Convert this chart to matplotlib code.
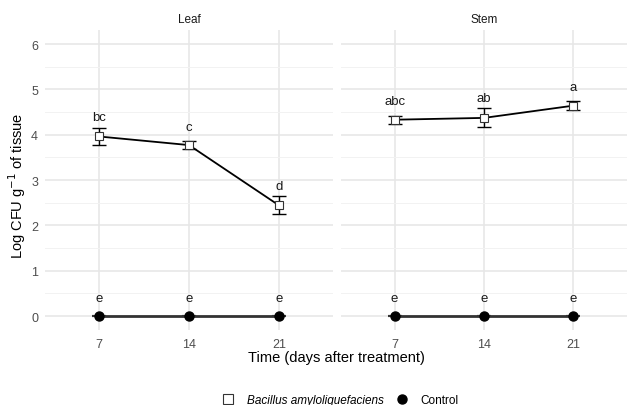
import matplotlib.pyplot as plt
from matplotlib.lines import Line2D
from matplotlib.ticker import MultipleLocator

plt.rcParams['font.family'] = ['Liberation Sans', 'DejaVu Sans']

# Data
days = ['7', '14', '21']
panels = ['Leaf', 'Stem']

leaf_mean = [3.96, 3.77, 2.44]
leaf_sd = [0.18, 0.08, 0.20]
stem_mean = [4.33, 4.37, 4.64]
stem_sd = [0.09, 0.21, 0.10]
control_mean = [0.0, 0.0, 0.0]
control_sd = [0.0, 0.0, 0.0]

leaf_letters = ['bc', 'c', 'd']
stem_letters = ['abc', 'ab', 'a']
control_letters = ['e', 'e', 'e']
leaf_letter_y = [4.39, 4.18, 2.87]
stem_letter_y = [4.75, 4.80, 5.06]
control_letter_y = [0.40, 0.40, 0.40]

W, H = 627, 406
fig = plt.figure(figsize=(W / 100, H / 100), dpi=100)

grid_major = '#e6e6e6'
grid_minor = '#f2f2f2'
txt_gray = '#4d4d4d'

boxes = [(45, 333), (341, 627)]
top_px, bot_px = 31.4, 330.6

series = [
    (leaf_mean, leaf_sd, leaf_letters, leaf_letter_y),
    (stem_mean, stem_sd, stem_letters, stem_letter_y),
]

for i, (name, (x0, x1)) in enumerate(zip(panels, boxes)):
    ax = fig.add_axes([x0 / W, 1 - bot_px / H, (x1 - x0) / W, (bot_px - top_px) / H])
    mean, sd, letters, ly = series[i]
    pos = list(range(len(days)))

    # control: line + caps of zero-width error bars + dots
    ax.errorbar(pos, control_mean, yerr=control_sd, fmt='none', ecolor='#333333',
                elinewidth=1.0, capsize=5, capthick=1.5, zorder=2)
    ax.plot(pos, control_mean, color='#333333', lw=2.0, zorder=3)
    ax.plot(pos, control_mean, ls='none', marker='o', ms=6.5, mfc='black',
            mec='black', zorder=4)

    # Bacillus
    ax.plot(pos, mean, color='black', lw=1.3, zorder=3)
    ax.errorbar(pos, mean, yerr=sd, fmt='none', ecolor='black', elinewidth=1.0,
                capsize=5, capthick=1.0, zorder=4)
    ax.plot(pos, mean, ls='none', marker='s', ms=6, mfc='white', mec='#333333',
            mew=0.8, zorder=5)

    for p, lab, y in zip(pos, letters, ly):
        ax.text(p, y, lab, ha='center', va='center', fontsize=9.5, color='#1a1a1a')
    for p, lab, y in zip(pos, control_letters, control_letter_y):
        ax.text(p, y, lab, ha='center', va='center', fontsize=9.5, color='#1a1a1a')

    ax.set_xlim(-0.6, len(days) - 0.4)
    ax.set_ylim(-0.3, 6.3)
    ax.set_xticks(pos)
    ax.set_xticklabels(days)
    ax.yaxis.set_major_locator(MultipleLocator(1))
    ax.yaxis.set_minor_locator(MultipleLocator(0.5))
    ax.grid(which='major', color=grid_major, lw=1.1, zorder=0)
    ax.grid(which='minor', axis='y', color=grid_minor, lw=0.7, zorder=0)
    ax.set_axisbelow(True)
    for s in ax.spines.values():
        s.set_visible(False)
    ax.tick_params(which='both', length=0, labelsize=9, labelcolor=txt_gray)
    ax.tick_params(axis='x', pad=6)
    ax.tick_params(axis='y', pad=5)
    if i > 0:
        ax.tick_params(axis='y', labelleft=False)
    ax.text(0.5, 1 + 11 / (bot_px - top_px), name, transform=ax.transAxes,
            ha='center', va='center', fontsize=8.5, color='#1a1a1a')

fig.text(0.537, 1 - 358 / H, 'Time (days after treatment)', ha='center', va='center',
         fontsize=10.5, color='black')
fig.text(17.5 / W, 1 - 186 / H, r'Log CFU g$^{-1}$ of tissue', rotation=90,
         ha='center', va='center', fontsize=10.5, color='black')

handles = [
    Line2D([], [], ls='none', marker='s', ms=6.5, mfc='white', mec='#333333', mew=0.8),
    Line2D([], [], ls='none', marker='o', ms=6.5, mfc='black', mec='black'),
]
leg = fig.legend(handles, ['Bacillus amyloliquefaciens', 'Control'], loc='center',
                 bbox_to_anchor=(0.543, 1 - 401 / H), ncol=2, frameon=False,
                 fontsize=8.5, handlelength=1.0, handletextpad=1.1, columnspacing=1.0)
leg.get_texts()[0].set_fontstyle('italic')

fig.savefig('out.png', dpi=100)
